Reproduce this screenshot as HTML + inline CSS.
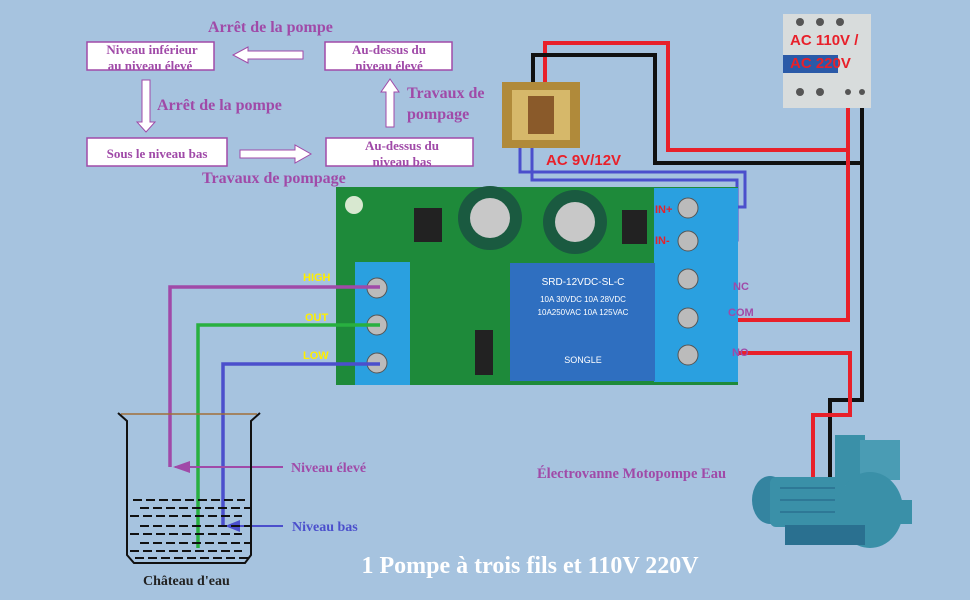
<!DOCTYPE html>
<html><head><meta charset="utf-8"><style>
body{margin:0;background:#a6c3df;}
svg{display:block;font-family:"Liberation Serif",serif;}
</style></head><body>
<svg width="970" height="600" viewBox="0 0 970 600" xmlns="http://www.w3.org/2000/svg">
<rect width="970" height="600" fill="#a6c3df"/>
<!-- flowchart -->
<g font-weight="bold" fill="#a04aa8" font-size="16">
<text x="208" y="32">Arrêt de la pompe</text>
<text x="157" y="110">Arrêt de la pompe</text>
<text x="407" y="98">Travaux de</text>
<text x="407" y="119">pompage</text>
<text x="202" y="183">Travaux de pompage</text>
</g>
<g fill="#fff" stroke="#a04aa8" stroke-width="1.5">
<rect x="87" y="42" width="127" height="28"/>
<rect x="325" y="42" width="127" height="28"/>
<rect x="87" y="138" width="140" height="28"/>
<rect x="326" y="138" width="147" height="28"/>
</g>
<g font-weight="bold" fill="#a04aa8" font-size="13" text-anchor="middle">
<text x="152" y="54">Niveau inférieur</text><text x="150" y="70">au niveau élevé</text>
<text x="389" y="54">Au-dessus du</text><text x="389" y="70">niveau élevé</text>
<text x="157" y="158">Sous le niveau bas</text>
<text x="402" y="150">Au-dessus du</text><text x="402" y="166">niveau bas</text>
</g>
<g fill="#fff" stroke="#a04aa8" stroke-width="1">
<polygon points="303,51 248,51 248,47 233,55 248,63 248,59 303,59"/>
<polygon points="142,80 150,80 150,122 155,122 146,132 137,122 142,122"/>
<polygon points="240,150 295,150 295,145 311,154 295,163 295,158 240,158"/>
<polygon points="386,127 394,127 394,92 399,92 390,79 381,92 386,92"/>
</g>
<!-- wires power -->
<g fill="none" stroke-width="4">
<polyline points="545,82 545,43 668,43 668,150 848,150" stroke="#e8202a"/>
<polyline points="533,82 533,55 655,55 655,163 862,163" stroke="#111"/>
<polyline points="848,98 848,320 718,320" stroke="#e8202a"/>
<polyline points="862,98 862,400 830,400 830,478" stroke="#111"/>
<polyline points="718,353 850,353 850,415 813,415 813,480" stroke="#e8202a"/>
<polyline points="520,118 520,172 745,172 745,207 690,207" stroke="#4b4fcc" stroke-width="3"/>
<polyline points="532,118 532,180 737,180 737,240 690,240" stroke="#4b4fcc" stroke-width="3"/>
</g>
<!-- transformer -->
<rect x="502" y="82" width="78" height="66" fill="#b08a3a"/>
<rect x="512" y="90" width="58" height="50" fill="#d6b86a"/>
<rect x="528" y="96" width="26" height="38" fill="#8a5a2a"/>
<text x="546" y="165" font-family="Liberation Sans,sans-serif" font-weight="bold" font-size="15" fill="#e8202a">AC 9V/12V</text>
<!-- breaker -->
<rect x="783" y="14" width="88" height="94" fill="#d8dcdc"/>
<g fill="#555"><circle cx="800" cy="22" r="4"/><circle cx="820" cy="22" r="4"/><circle cx="840" cy="22" r="4"/>
<circle cx="800" cy="92" r="4"/><circle cx="820" cy="92" r="4"/><circle cx="848" cy="92" r="3"/><circle cx="862" cy="92" r="3"/></g>
<rect x="783" y="55" width="55" height="18" fill="#2a5aa8"/>
<text x="790" y="45" font-family="Liberation Sans,sans-serif" font-weight="bold" font-size="15" fill="#e8202a">AC 110V /</text>
<text x="790" y="68" font-family="Liberation Sans,sans-serif" font-weight="bold" font-size="15" fill="#e8202a">AC 220V</text>
<!-- board -->
<rect x="336" y="187" width="402" height="198" fill="#1e8a3a"/>
<circle cx="354" cy="205" r="9" fill="#d8e8d0"/>
<rect x="355" y="262" width="55" height="123" fill="#2aa0e0"/>
<rect x="654" y="188" width="84" height="194" fill="#2aa0e0"/>
<rect x="510" y="263" width="145" height="118" fill="#2f6fc0"/>
<circle cx="490" cy="218" r="32" fill="#1a5a40"/><circle cx="490" cy="218" r="20" fill="#c8c8c8"/>
<circle cx="575" cy="222" r="32" fill="#1a5a40"/><circle cx="575" cy="222" r="20" fill="#c8c8c8"/>
<rect x="414" y="208" width="28" height="34" fill="#222"/>
<rect x="622" y="210" width="25" height="34" fill="#222"/>
<rect x="475" y="330" width="18" height="45" fill="#222"/>
<g fill="#bbb" stroke="#555">
<circle cx="377" cy="288" r="10"/><circle cx="377" cy="325" r="10"/><circle cx="377" cy="363" r="10"/>
<circle cx="688" cy="208" r="10"/><circle cx="688" cy="241" r="10"/><circle cx="688" cy="279" r="10"/><circle cx="688" cy="318" r="10"/><circle cx="688" cy="355" r="10"/>
</g>
<g font-family="Liberation Sans,sans-serif" font-size="10" fill="#fff" text-anchor="middle">
<text x="583" y="285">SRD-12VDC-SL-C</text>
<text x="583" y="302" font-size="8">10A 30VDC 10A 28VDC</text>
<text x="583" y="315" font-size="8">10A250VAC 10A 125VAC</text>
<text x="583" y="363" font-size="9">SONGLE</text>
</g>
<g font-family="Liberation Sans,sans-serif" font-weight="bold" font-size="11">
<text x="655" y="213" fill="#e8202a">IN+</text><text x="655" y="244" fill="#e8202a">IN-</text>
<text x="733" y="290" fill="#a04aa8">NC</text><text x="728" y="316" fill="#a04aa8">COM</text><text x="732" y="356" fill="#a04aa8">NO</text>
<text x="303" y="281" fill="#ffef00">HIGH</text><text x="305" y="321" fill="#ffef00">OUT</text><text x="303" y="359" fill="#ffef00">LOW</text>
</g>
<!-- tank wires -->
<polyline points="380,287 170,287 170,467" fill="none" stroke="#a04aa8" stroke-width="3.5"/>
<polyline points="380,325 198,325 198,548" fill="none" stroke="#28b040" stroke-width="3.5"/>
<polyline points="380,364 223,364 223,526" fill="none" stroke="#4b4fcc" stroke-width="3.5"/>
<line x1="175" y1="467" x2="283" y2="467" stroke="#a04aa8" stroke-width="2"/>
<polygon points="173,467 190,461 190,473" fill="#a04aa8"/>
<line x1="228" y1="526" x2="283" y2="526" stroke="#4b4fcc" stroke-width="2"/>
<polygon points="225,526 240,520 240,532" fill="#4b4fcc"/>
<text x="291" y="472" font-size="14" font-weight="bold" fill="#a04aa8">Niveau élevé</text>
<text x="292" y="531" font-size="14" font-weight="bold" fill="#4b4fcc">Niveau bas</text>
<!-- tank -->
<line x1="121" y1="414" x2="257" y2="414" stroke="#a0703a" stroke-width="1.5"/>
<polyline points="118,413 127,421 127,555 134,563 245,563 251,555 251,421 260,413" fill="none" stroke="#111" stroke-width="2"/>
<g stroke="#111" stroke-width="2" stroke-dasharray="9,4">
<line x1="133" y1="500" x2="245" y2="500"/><line x1="140" y1="508" x2="250" y2="508"/>
<line x1="130" y1="516" x2="242" y2="516"/><line x1="140" y1="526" x2="250" y2="526"/>
<line x1="130" y1="534" x2="242" y2="534"/><line x1="140" y1="543" x2="250" y2="543"/>
<line x1="130" y1="551" x2="242" y2="551"/><line x1="135" y1="558" x2="248" y2="558"/>
</g>
<text x="143" y="585" font-size="14" font-weight="bold" fill="#222">Château d'eau</text>
<!-- pump -->
<text x="537" y="478" font-size="14.5" font-weight="bold" fill="#a04aa8">Électrovanne Motopompe Eau</text>
<g fill="#3a90a8">
<ellipse cx="770" cy="500" rx="18" ry="24" fill="#3484a0"/>
<rect x="770" y="477" width="75" height="50" rx="6"/>
<rect x="835" y="435" width="30" height="50"/>
<rect x="860" y="440" width="40" height="40" fill="#4a9cb4"/>
<ellipse cx="870" cy="510" rx="33" ry="38"/>
<rect x="890" y="500" width="22" height="24"/>
<rect x="785" y="525" width="80" height="20" fill="#2a7090"/>
</g>
<g stroke="#2a7090" stroke-width="1.5"><line x1="780" y1="488" x2="835" y2="488"/><line x1="780" y1="500" x2="835" y2="500"/><line x1="780" y1="512" x2="835" y2="512"/></g>
<text x="530" y="573" font-size="24" font-weight="bold" fill="#fff" text-anchor="middle">1 Pompe à trois fils et 110V 220V</text>
</svg>
</body></html>
